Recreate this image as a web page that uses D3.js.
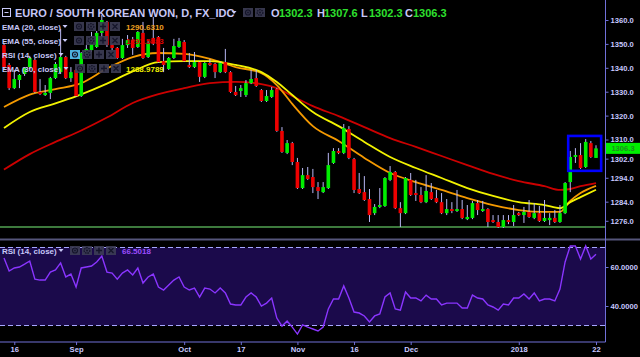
<!DOCTYPE html>
<html><head><meta charset="utf-8">
<script src="https://cdn.jsdelivr.net/npm/d3@7"></script>
<style>html,body{margin:0;padding:0;background:#000;overflow:hidden}svg{display:block}</style>
</head><body>
<svg id="c" width="640" height="357"></svg>
<script>
// ---------- DATA ----------
const opens=[1349.5,1341.2,1331.5,1334.9,1337.4,1340.3,1343.3,1329.9,1328.6,1329.5,1335.7,1338.2,1344.5,1335.7,1339.1,1328.2,1345.8,1347.4,1348.7,1354.6,1359.2,1349.5,1348.3,1344.1,1349.5,1351.6,1348.7,1354.6,1344.5,1352.5,1352.9,1342.8,1339.5,1344.1,1348.7,1350.8,1341.2,1340.3,1342.4,1336.2,1342.0,1341.6,1338.2,1342.4,1338.2,1329.9,1330.3,1328.6,1333.6,1335.7,1330.7,1326.1,1327.8,1331.1,1313.6,1304.4,1308.5,1300.6,1289.7,1295.1,1294.3,1290.1,1288.0,1289.7,1300.2,1305.2,1304.4,1314.4,1301.8,1289.3,1288.0,1285.1,1279.2,1281.8,1282.2,1293.1,1296.4,1281.3,1279.2,1293.1,1287.6,1286.8,1283.8,1288.0,1285.5,1283.8,1279.2,1280.9,1280.1,1280.9,1276.7,1277.2,1283.4,1280.1,1280.9,1276.3,1275.5,1273.4,1276.3,1275.5,1279.2,1278.4,1279.7,1277.2,1279.2,1275.9,1276.3,1277.2,1275.5,1279.2,1292.2,1302.7,1303.5,1298.5,1308.5,1302.3];
const highs=[1350.4,1342.0,1339.1,1337.4,1340.3,1345.0,1344.1,1335.3,1332.8,1336.2,1342.4,1356.2,1345.0,1340.3,1339.5,1346.6,1349.5,1355.0,1355.4,1362.1,1359.6,1350.0,1348.7,1352.1,1353.7,1352.9,1355.4,1359.2,1351.2,1361.3,1353.3,1348.3,1344.5,1352.1,1352.5,1351.6,1346.2,1346.6,1342.8,1342.4,1343.7,1342.0,1342.4,1347.9,1338.6,1332.4,1332.8,1334.9,1339.1,1339.1,1331.1,1330.7,1332.0,1331.5,1315.2,1309.8,1309.0,1302.3,1298.1,1298.5,1297.7,1292.2,1292.2,1304.4,1306.4,1306.4,1316.5,1315.6,1302.3,1296.0,1294.7,1289.3,1283.0,1289.7,1294.3,1298.9,1296.8,1283.8,1294.3,1296.0,1293.1,1290.1,1295.1,1291.8,1288.9,1287.6,1285.1,1283.8,1288.9,1284.7,1282.6,1284.3,1284.7,1284.3,1281.3,1278.4,1278.4,1278.4,1278.4,1282.6,1279.7,1281.8,1284.7,1283.4,1282.2,1284.7,1279.2,1280.5,1282.6,1292.2,1305.2,1306.4,1308.5,1310.2,1309.4,1307.6];
const lows=[1339.5,1330.7,1331.1,1331.5,1336.6,1339.5,1329.5,1328.6,1328.2,1326.9,1335.3,1337.4,1335.3,1334.1,1327.8,1327.8,1345.0,1346.6,1348.3,1352.9,1348.7,1347.4,1343.7,1343.7,1348.3,1345.4,1348.3,1343.7,1344.1,1349.5,1342.0,1338.2,1339.1,1343.7,1348.3,1342.4,1339.9,1339.9,1334.1,1335.7,1340.8,1335.7,1337.8,1337.8,1329.5,1328.2,1327.8,1327.8,1333.2,1332.0,1325.7,1325.7,1327.4,1313.2,1304.4,1303.9,1299.3,1289.3,1289.3,1293.1,1287.6,1285.1,1287.6,1289.3,1299.8,1303.9,1303.9,1301.8,1287.6,1287.2,1284.3,1275.5,1278.4,1281.3,1281.8,1292.6,1280.9,1273.4,1278.8,1286.4,1284.3,1283.4,1283.4,1284.7,1283.4,1278.8,1278.4,1279.2,1279.7,1276.7,1276.3,1276.7,1278.4,1279.7,1273.4,1275.1,1273.0,1273.0,1274.6,1273.8,1278.0,1275.1,1277.2,1276.7,1275.5,1275.5,1274.2,1275.1,1275.1,1278.8,1288.0,1300.2,1297.7,1298.1,1302.3,1302.3];
const closes=[1340.3,1331.5,1335.3,1337.0,1339.9,1344.1,1329.9,1329.0,1329.5,1335.7,1341.6,1344.5,1335.7,1338.2,1328.2,1346.2,1347.9,1350.4,1354.6,1360.0,1349.5,1348.3,1344.1,1349.5,1351.6,1348.3,1355.0,1344.1,1350.4,1350.4,1342.4,1341.2,1344.1,1349.1,1351.2,1342.8,1340.3,1342.4,1336.2,1342.0,1341.2,1338.2,1342.0,1338.2,1329.9,1328.6,1331.5,1333.6,1335.3,1332.4,1326.1,1328.2,1330.7,1313.6,1304.8,1308.5,1300.6,1289.7,1295.1,1293.5,1290.1,1288.5,1290.1,1299.3,1305.2,1304.4,1314.8,1302.3,1288.9,1287.6,1284.7,1278.4,1281.8,1282.6,1293.9,1296.4,1281.3,1279.2,1293.9,1286.8,1286.8,1283.8,1288.5,1285.1,1283.8,1279.2,1280.9,1280.1,1280.9,1277.2,1277.6,1283.4,1280.5,1280.9,1275.5,1275.5,1273.4,1276.3,1275.5,1278.4,1278.4,1279.7,1277.6,1279.2,1275.9,1277.2,1277.2,1275.5,1279.2,1291.8,1302.7,1303.5,1298.1,1309.0,1302.7,1306.3];
const rsi14=[64.6,57.9,59.5,60.0,61.5,63.1,53.8,53.3,53.3,57.4,58.5,62.1,54.9,56.4,49.7,59.5,60.0,60.5,62.6,65.6,57.4,56.9,53.8,56.9,58.5,55.9,59.5,51.8,54.9,56.4,49.7,48.2,50.8,53.3,54.9,49.7,48.2,49.2,44.6,49.2,48.7,46.7,49.2,46.7,41.0,40.5,40.5,44.6,46.7,44.6,40.0,41.5,44.1,33.8,29.7,32.3,29.2,25.6,30.3,29.2,28.2,27.2,29.2,38.5,43.6,43.6,50.3,44.1,36.9,36.4,34.9,31.8,34.9,35.9,44.6,46.7,38.5,37.9,47.2,44.1,44.1,42.6,45.6,43.6,43.6,40.5,41.5,41.5,41.5,39.0,39.0,45.6,44.1,43.6,40.5,39.5,37.9,41.0,40.5,44.1,44.1,46.2,43.6,46.7,42.6,43.6,43.6,42.6,48.7,62.6,70.8,70.8,64.1,70.8,64.1,66.5];
// EMA values read at these candle indices
const emaIdx=[0,5,10,15,20,25,30,35,40,45,50,53,56,60,65,70,75,80,85,90,95,100,105,108,110,112,115];
const ema20=[1323.6,1328.8,1331.1,1333.6,1339.7,1344.5,1346.2,1345.8,1343.7,1340.3,1337.8,1332.8,1324.9,1315.6,1309.4,1302.3,1296.0,1292.2,1288.9,1285.5,1282.6,1280.5,1279.7,1279.7,1284.3,1287.6,1290.6];
const ema30=[1314.8,1321.5,1325.1,1328.9,1333.4,1338.5,1342.4,1342.8,1342.8,1341.2,1338.2,1334.1,1328.6,1321.5,1315.6,1309.0,1302.7,1298.1,1293.9,1289.7,1286.4,1283.8,1282.6,1281.3,1283.8,1285.9,1289.0];
const ema55=[1297.4,1303.9,1309.0,1313.8,1319.2,1325.3,1329.0,1331.5,1333.6,1334.1,1333.2,1331.5,1328.2,1324.0,1319.8,1315.2,1310.6,1306.9,1303.1,1299.3,1295.6,1292.6,1290.5,1288.9,1289.3,1290.5,1291.8];
const tickIdx=[2,14,35,46,57,68,79,100,115];
const tickLabels=["16","Sep","Oct","17","Nov","16","Dec","2018","22"];
const priceTicks=[1360,1350,1340,1330,1320,1310,1302,1294,1284,1276];
const rsiTicks=[60,40];
const supportLevel=[1273.4];
const boxIdx=[109.6,116.0];
const boxPrice=[1296.9,1311.5];
const lastOHLC=["1302.3","1307.6","1302.3","1306.3"];
const legendVals=["1290.6310","1291.5883","","1288.9789"];
const rsiLast="66.5018";

// ---------- DRAW ----------
const svg=d3.select("#c");
svg.append("rect").attr("width",640).attr("height",357).attr("fill","#000");
const AX=605.5, BOT=342;
const x=d3.scaleLinear().domain([0,115]).range([4,596]);
const y=d3.scaleLinear().domain([1276,1360]).range([220.8,20]);
const yr=d3.scaleLinear().domain([30,70]).range([325.5,247.5]);
const defs=svg.append("defs");
defs.append("clipPath").attr("id","cm").append("rect").attr("x",0).attr("y",0).attr("width",AX).attr("height",238);
defs.append("clipPath").attr("id","cr").append("rect").attr("x",0).attr("y",241).attr("width",AX).attr("height",BOT-241);
const FONT="'Liberation Sans',Arial,sans-serif";

// RSI pane
const rp=svg.append("g").attr("clip-path","url(#cr)");
rp.append("rect").attr("x",0).attr("width",AX).attr("y",yr(70)).attr("height",yr(30)-yr(70)).attr("fill","#1b0a4b");
[70,30].forEach(v=>rp.append("line").attr("x1",0).attr("x2",AX).attr("y1",yr(v)).attr("y2",yr(v))
  .attr("stroke","#a6a6ff").attr("stroke-width",1).attr("stroke-dasharray","5,3"));
rp.append("path").datum(rsi14).attr("fill","none").attr("stroke","#8a35ff").attr("stroke-width",1.4)
  .attr("d",d3.line().x((d,i)=>x(i)).y(d=>yr(d)));

// main pane
const mp=svg.append("g").attr("clip-path","url(#cm)");
mp.append("line").attr("x1",0).attr("x2",AX).attr("y1",y(supportLevel[0])).attr("y2",y(supportLevel[0]))
  .attr("stroke","#3d7a3d").attr("stroke-width",2);
const emaLine=d3.line().x((d,i)=>x(emaIdx[i])).y(d=>y(d)).curve(d3.curveMonotoneX);
[[ema55,"#cc0000"],[ema20,"#f59a00"],[ema30,"#f2f200"]].forEach(([a,c])=>
  mp.append("path").datum(a).attr("fill","none").attr("stroke",c).attr("stroke-width",1.8).attr("d",emaLine));
const candles=opens.map((o,i)=>({i,o,h:highs[i],l:lows[i],c:closes[i]}));
const cg=mp.selectAll("g.cd").data(candles).enter().append("g");
cg.append("line").attr("x1",d=>x(d.i)).attr("x2",d=>x(d.i)).attr("y1",d=>y(d.h)).attr("y2",d=>y(d.l))
  .attr("stroke","#b8b8f4").attr("stroke-width",1);
cg.append("rect").attr("x",d=>x(d.i)-1.8).attr("width",3.6)
  .attr("y",d=>y(Math.max(d.o,d.c))).attr("height",d=>Math.max(1.2,Math.abs(y(d.o)-y(d.c))))
  .attr("fill",d=>d.c>=d.o?"#00ee00":"#ee0000");
mp.append("rect").attr("x",x(boxIdx[0])).attr("width",x(boxIdx[1])-x(boxIdx[0]))
  .attr("y",y(boxPrice[1])).attr("height",y(boxPrice[0])-y(boxPrice[1]))
  .attr("fill","none").attr("stroke","#0000ff").attr("stroke-width",2.6);

// separator & axes lines
svg.append("rect").attr("x",0).attr("y",238.5).attr("width",640).attr("height",2).attr("fill","#55557a");
svg.append("line").attr("x1",AX).attr("x2",AX).attr("y1",0).attr("y2",BOT).attr("stroke","#7070d8").attr("stroke-width",1);
svg.append("line").attr("x1",0).attr("x2",AX).attr("y1",BOT).attr("y2",BOT).attr("stroke","#7070d8").attr("stroke-width",1);

function styleAxis(g){
  g.select(".domain").remove();
  g.selectAll("line").attr("stroke","#7070d8");
  g.selectAll("text").attr("fill","#c8c8ff").attr("font-family",FONT).attr("font-size","7.6px").attr("font-weight","bold");
}
const ga=svg.append("g").attr("transform",`translate(${AX},0)`)
  .call(d3.axisRight(y).tickValues(priceTicks).tickFormat(d=>d.toFixed(1)).tickSize(3).tickPadding(2));
styleAxis(ga);
const gr=svg.append("g").attr("transform",`translate(${AX},0)`)
  .call(d3.axisRight(yr).tickValues(rsiTicks).tickFormat(d=>d.toFixed(4)).tickSize(3).tickPadding(2));
styleAxis(gr);
const gx=svg.append("g").attr("transform",`translate(0,${BOT})`)
  .call(d3.axisBottom(x).tickValues(tickIdx).tickFormat((d,i)=>tickLabels[i]).tickSize(3).tickPadding(2));
styleAxis(gx);

// last price label
const yl=y(+lastOHLC[3]);
svg.append("rect").attr("x",AX+0.5).attr("y",yl-5.5).attr("width",640-AX).attr("height",11).attr("fill","#00ee00");
svg.append("text").attr("x",623).attr("y",yl+3).attr("text-anchor","middle").attr("font-family",FONT)
  .attr("font-size","7.6px").attr("font-weight","bold").attr("fill","#1f8f1f").text(lastOHLC[3]);

// legend helpers
const LEG="#c8c8f8";
function tri(g,cx,cy){g.append("path").attr("d",`M${cx-2.5},${cy-1.5}L${cx+2.5},${cy-1.5}L${cx},${cy+1.5}Z`).attr("fill",LEG);}
function icons(g,x0,yTop,n,hl){
  for(let k=0;k<n;k++){
    const bx=x0+k*12;
    g.append("rect").attr("x",bx).attr("y",yTop).attr("width",10).attr("height",9)
      .attr("fill",(hl&&k===0)?"#55c4f5":"#3d3d55").attr("opacity",0.9);
    const cx=bx+5,cy=yTop+4.5,col="#15152a";
    const kind=n===2?k:k;
    if(kind===0){g.append("circle").attr("cx",cx).attr("cy",cy).attr("r",2.5).attr("fill","none").attr("stroke",col).attr("stroke-width",1.2);
      g.append("circle").attr("cx",cx).attr("cy",cy).attr("r",0.9).attr("fill",col);}
    else if(kind===1){g.append("circle").attr("cx",cx).attr("cy",cy).attr("r",2.8).attr("fill","none").attr("stroke",col).attr("stroke-width",1.4).attr("stroke-dasharray","1.5,0.9");
      g.append("circle").attr("cx",cx).attr("cy",cy).attr("r",1).attr("fill",col);}
    else if(kind===2){g.append("path").attr("d",`M${cx-3},${cy}H${cx+3}M${cx},${cy-3}V${cy+3}`).attr("stroke",col).attr("stroke-width",1.4);}
    else {g.append("path").attr("d",`M${cx-2.5},${cy-2.5}L${cx+2.5},${cy+2.5}M${cx+2.5},${cy-2.5}L${cx-2.5},${cy+2.5}`).attr("stroke",col).attr("stroke-width",1.3);}
  }
}
const lg=svg.append("g").attr("font-family",FONT).attr("font-weight","bold");
// title
lg.append("rect").attr("x",2.5).attr("y",8.5).attr("width",8).attr("height",8).attr("fill","none").attr("stroke",LEG).attr("stroke-width",1);
lg.append("line").attr("x1",4.5).attr("x2",8.5).attr("y1",12.5).attr("y2",12.5).attr("stroke",LEG).attr("stroke-width",1);
lg.append("text").attr("x",15).attr("y",16.7).attr("font-size","11px").attr("fill",LEG).text("EURO / SOUTH KOREAN WON, D, FX_IDC");
tri(lg,234,12.5);
icons(lg,243,8,2,false);
const ohlc=[["O",271,279],["H",317,324],["L",361,369],["C",405,413]];
ohlc.forEach((p,k)=>{
  lg.append("text").attr("x",p[1]).attr("y",16.7).attr("font-size","11px").attr("fill",LEG).text(p[0]);
  lg.append("text").attr("x",p[2]).attr("y",16.7).attr("font-size","11px").attr("fill","#2ee02e").text(lastOHLC[k]);
});
const rows=[["EMA (20, close)","#f0a020",74],["EMA (55, close)","#dd0000",74],["RSI (14, close)","",70],["EMA (30, close)","#f0f000",75]];
rows.forEach((r,k)=>{
  const by=29.5+k*14;
  lg.append("text").attr("x",2).attr("y",by).attr("font-size","8px").attr("fill",LEG).text(r[0]);
  tri(lg,r[2]-9,by-3);
  icons(lg,r[2],by-7.5,4,k===2);
  if(legendVals[k]) lg.append("text").attr("x",126).attr("y",by).attr("font-size","8px").attr("fill",r[1]).text(legendVals[k]);
});
// RSI pane legend
lg.append("text").attr("x",2).attr("y",253.5).attr("font-size","8px").attr("fill",LEG).text("RSI (14, close)");
tri(lg,61,250.5);
icons(lg,70,246,4,false);
lg.append("text").attr("x",122).attr("y",253.5).attr("font-size","8px").attr("fill","#9b4dff").text(rsiLast);
</script>
</body></html>
